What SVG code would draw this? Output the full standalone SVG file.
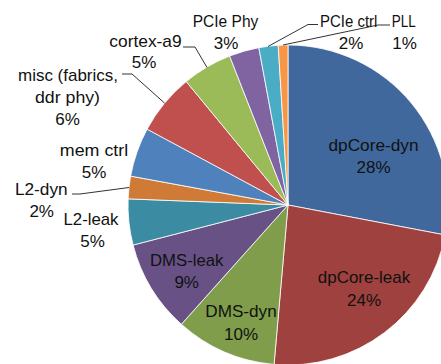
<svg xmlns="http://www.w3.org/2000/svg" width="441" height="364" viewBox="0 0 441 364">
<style>
  .slice { stroke: #ffffff; stroke-width: 0.8; stroke-linejoin: round; }
  .lbl { font-family: "Liberation Sans", Arial, sans-serif; font-size: 17px; fill: #111111; text-anchor: middle; }
  .leader { fill: none; stroke: #333333; stroke-width: 1; }
</style>
<rect width="441" height="364" fill="#ffffff"/>
<g id="slices">
  <g id="dpcore-dyn"><path class="slice" fill="#40689D" d="M288,205 L288,45 A160,160 0 0,1 445.17,234.98 Z"/></g>
  <g id="dpcore-leak"><path class="slice" fill="#9F413E" d="M288,205 L445.17,234.98 A160,160 0 0,1 274.05,364.39 Z"/></g>
  <g id="dms-dyn"><path class="slice" fill="#809D4B" d="M288,205 L274.05,364.39 A160,160 0 0,1 181.36,324.28 Z"/></g>
  <g id="dms-leak"><path class="slice" fill="#675185" d="M288,205 L181.36,324.28 A160,160 0 0,1 133.10,245.06 Z"/></g>
  <g id="l2-leak"><path class="slice" fill="#3B8CA2" d="M288,205 L133.10,245.06 A160,160 0 0,1 128.12,198.86 Z"/></g>
  <g id="l2-dyn"><path class="slice" fill="#CF7A36" d="M288,205 L128.12,198.86 A160,160 0 0,1 130.63,176.12 Z"/></g>
  <g id="mem-ctrl"><path class="slice" fill="#4F81BD" d="M288,205 L130.63,176.12 A160,160 0 0,1 147.12,129.15 Z"/></g>
  <g id="misc"><path class="slice" fill="#C0504D" d="M288,205 L147.12,129.15 A160,160 0 0,1 186.23,81.54 Z"/></g>
  <g id="cortex-a9"><path class="slice" fill="#9BBB59" d="M288,205 L186.23,81.54 A160,160 0 0,1 229.62,56.03 Z"/></g>
  <g id="pcie-phy"><path class="slice" fill="#8064A2" d="M288,205 L229.62,56.03 A160,160 0 0,1 258.84,47.68 Z"/></g>
  <g id="pcie-ctrl"><path class="slice" fill="#4BACC6" d="M288,205 L258.84,47.68 A160,160 0 0,1 278.23,45.30 Z"/></g>
  <g id="pll"><path class="slice" fill="#F79646" d="M288,205 L278.23,45.30 A160,160 0 0,1 288,45 Z"/></g>
</g>
<g id="connectors">
  <polyline class="leader" points="122,74 132,74 164.5,103"/>
  <polyline class="leader" points="183,47 195,47 207,67.5"/>
  <polyline class="leader" points="318,24.5 308,24.5 268,46.5"/>
  <polyline class="leader" points="390,25 378,25 283,45"/>
  <polyline class="leader" points="72,194 80,194 129,187.5"/>
</g>
<g id="labels">
  <g id="lbl-dpcore-dyn"><text class="lbl" x="373.5" y="151" textLength="90" lengthAdjust="spacingAndGlyphs">dpCore-dyn</text><text class="lbl" x="373.5" y="173">28%</text></g>
  <g id="lbl-dpcore-leak"><text class="lbl" x="364" y="283" textLength="92.5" lengthAdjust="spacingAndGlyphs">dpCore-leak</text><text class="lbl" x="364" y="306">24%</text></g>
  <g id="lbl-dms-dyn"><text class="lbl" x="241" y="317" textLength="71.5" lengthAdjust="spacingAndGlyphs">DMS-dyn</text><text class="lbl" x="241" y="339.5">10%</text></g>
  <g id="lbl-dms-leak"><text class="lbl" x="186.7" y="266" textLength="73.3" lengthAdjust="spacingAndGlyphs">DMS-leak</text><text class="lbl" x="186.7" y="288">9%</text></g>
  <g id="lbl-l2-leak"><text class="lbl" x="91" y="224.5" textLength="55" lengthAdjust="spacingAndGlyphs">L2-leak</text><text class="lbl" x="92.5" y="247">5%</text></g>
  <g id="lbl-l2-dyn"><text class="lbl" x="41.3" y="195" textLength="52.7" lengthAdjust="spacingAndGlyphs">L2-dyn</text><text class="lbl" x="41.7" y="217">2%</text></g>
  <g id="lbl-mem-ctrl"><text class="lbl" x="94" y="156" textLength="68.3" lengthAdjust="spacingAndGlyphs">mem ctrl</text><text class="lbl" x="94" y="177.5">5%</text></g>
  <g id="lbl-misc"><text class="lbl" x="68" y="81" textLength="100" lengthAdjust="spacingAndGlyphs">misc (fabrics,</text><text class="lbl" x="67.5" y="103" textLength="65" lengthAdjust="spacingAndGlyphs">ddr phy)</text><text class="lbl" x="67.5" y="125">6%</text></g>
  <g id="lbl-cortex-a9"><text class="lbl" x="145.5" y="47" textLength="72.4" lengthAdjust="spacingAndGlyphs">cortex-a9</text><text class="lbl" x="144" y="68">5%</text></g>
  <g id="lbl-pcie-phy"><text class="lbl" x="225.5" y="27" textLength="65.6" lengthAdjust="spacingAndGlyphs">PCIe Phy</text><text class="lbl" x="226" y="48.5">3%</text></g>
  <g id="lbl-pcie-ctrl"><text class="lbl" x="348.7" y="26.5" textLength="57.3" lengthAdjust="spacingAndGlyphs">PCIe ctrl</text><text class="lbl" x="351" y="48.5">2%</text></g>
  <g id="lbl-pll"><text class="lbl" x="403.7" y="26.5" textLength="24" lengthAdjust="spacingAndGlyphs">PLL</text><text class="lbl" x="404.5" y="48.5">1%</text></g>
</g>
</svg>
